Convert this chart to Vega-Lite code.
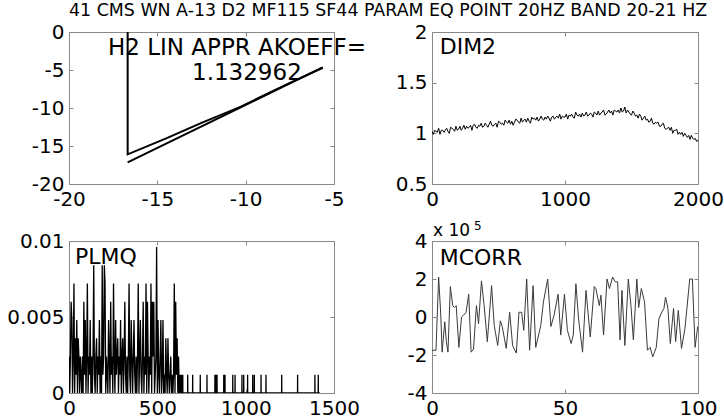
{
"$schema": "https://vega.github.io/schema/vega-lite/v6.json",
"background": "white",
"padding": {"left": 6, "top": 2, "right": 0, "bottom": 0},
"title": {"text": "41 CMS WN A-13 D2 MF115 SF44 PARAM EQ POINT 20HZ BAND 20-21 HZ", "font": "DejaVu Sans", "fontSize": 17.4, "fontWeight": "normal", "color": "#000", "anchor": "middle", "dx": 23, "offset": 2},
"bounds": "flush",
"columns": 2,
"spacing": {"row": 57, "column": 98},
"datasets": {
"h2": [
{"s":"d","i":0,"x":-16.68,"y":0},{"s":"d","i":1,"x":-16.68,"y":-16.1},{"s":"d","i":2,"x":-14.5,"y":-14.0},{"s":"d","i":3,"x":-12.5,"y":-11.95},{"s":"d","i":4,"x":-10.3,"y":-9.85},{"s":"d","i":5,"x":-8.0,"y":-7.25},{"s":"d","i":6,"x":-5.64,"y":-4.7},
{"s":"f","i":0,"x":-16.68,"y":-17.15},{"s":"f","i":1,"x":-5.64,"y":-4.65}],
"h2t": [{"x":-10.49,"y":-3.03,"t":"H2 LIN APPR AKOEFF="},{"x":-9.93,"y":-6.32,"t":"1.132962"}],
"dim2": [
{"x":0,"y":1.02},{"x":10,"y":0.99},{"x":20,"y":1.03},{"x":30,"y":1.02},{"x":40,"y":1.01},{"x":50,"y":1.05},{"x":60,"y":0.99},{"x":70,"y":1.03},{"x":80,"y":1.03},{"x":90,"y":1.01},
{"x":100,"y":1.03},{"x":110,"y":1.05},{"x":120,"y":1.02},{"x":130,"y":1.00},{"x":140,"y":1.06},{"x":150,"y":1.05},{"x":160,"y":1.04},{"x":170,"y":1.02},{"x":180,"y":1.07},{"x":190,"y":1.03},
{"x":200,"y":1.04},{"x":210,"y":1.07},{"x":220,"y":1.03},{"x":230,"y":1.05},{"x":240,"y":1.08},{"x":250,"y":1.04},{"x":260,"y":1.07},{"x":270,"y":1.05},{"x":280,"y":1.06},{"x":290,"y":1.08},
{"x":300,"y":1.03},{"x":310,"y":1.08},{"x":320,"y":1.09},{"x":330,"y":1.06},{"x":340,"y":1.05},{"x":350,"y":1.08},{"x":360,"y":1.07},{"x":370,"y":1.10},{"x":380,"y":1.06},{"x":390,"y":1.07},
{"x":400,"y":1.10},{"x":410,"y":1.08},{"x":420,"y":1.06},{"x":430,"y":1.09},{"x":440,"y":1.12},{"x":450,"y":1.08},{"x":460,"y":1.07},{"x":470,"y":1.09},{"x":480,"y":1.10},{"x":490,"y":1.06},
{"x":500,"y":1.12},{"x":510,"y":1.11},{"x":520,"y":1.09},{"x":530,"y":1.10},{"x":540,"y":1.08},{"x":550,"y":1.13},{"x":560,"y":1.11},{"x":570,"y":1.10},{"x":580,"y":1.13},{"x":590,"y":1.09},
{"x":600,"y":1.12},{"x":610,"y":1.08},{"x":620,"y":1.11},{"x":630,"y":1.14},{"x":640,"y":1.13},{"x":650,"y":1.11},{"x":660,"y":1.10},{"x":670,"y":1.15},{"x":680,"y":1.11},{"x":690,"y":1.13},
{"x":700,"y":1.14},{"x":710,"y":1.11},{"x":720,"y":1.15},{"x":730,"y":1.12},{"x":740,"y":1.10},{"x":750,"y":1.16},{"x":760,"y":1.14},{"x":770,"y":1.15},{"x":780,"y":1.13},{"x":790,"y":1.16},
{"x":800,"y":1.12},{"x":810,"y":1.14},{"x":820,"y":1.17},{"x":830,"y":1.14},{"x":840,"y":1.13},{"x":850,"y":1.16},{"x":860,"y":1.14},{"x":870,"y":1.17},{"x":880,"y":1.15},{"x":890,"y":1.12},
{"x":900,"y":1.16},{"x":910,"y":1.17},{"x":920,"y":1.14},{"x":930,"y":1.16},{"x":940,"y":1.17},{"x":950,"y":1.15},{"x":960,"y":1.19},{"x":970,"y":1.14},{"x":980,"y":1.17},{"x":990,"y":1.16},
{"x":1000,"y":1.16},{"x":1010,"y":1.19},{"x":1020,"y":1.14},{"x":1030,"y":1.18},{"x":1040,"y":1.17},{"x":1050,"y":1.19},{"x":1060,"y":1.16},{"x":1070,"y":1.15},{"x":1080,"y":1.21},{"x":1090,"y":1.18},
{"x":1100,"y":1.17},{"x":1110,"y":1.19},{"x":1120,"y":1.16},{"x":1130,"y":1.20},{"x":1140,"y":1.17},{"x":1150,"y":1.18},{"x":1160,"y":1.21},{"x":1170,"y":1.17},{"x":1180,"y":1.18},{"x":1190,"y":1.20},
{"x":1200,"y":1.19},{"x":1210,"y":1.16},{"x":1220,"y":1.21},{"x":1230,"y":1.20},{"x":1240,"y":1.18},{"x":1250,"y":1.22},{"x":1260,"y":1.18},{"x":1270,"y":1.20},{"x":1280,"y":1.21},{"x":1290,"y":1.23},
{"x":1300,"y":1.18},{"x":1310,"y":1.19},{"x":1320,"y":1.21},{"x":1330,"y":1.23},{"x":1340,"y":1.20},{"x":1350,"y":1.22},{"x":1360,"y":1.18},{"x":1370,"y":1.23},{"x":1380,"y":1.22},{"x":1390,"y":1.21},
{"x":1400,"y":1.23},{"x":1410,"y":1.20},{"x":1420,"y":1.25},{"x":1430,"y":1.21},{"x":1440,"y":1.22},{"x":1450,"y":1.26},{"x":1460,"y":1.20},{"x":1470,"y":1.23},{"x":1480,"y":1.21},{"x":1490,"y":1.19},
{"x":1500,"y":1.18},{"x":1510,"y":1.22},{"x":1520,"y":1.20},{"x":1530,"y":1.17},{"x":1540,"y":1.18},{"x":1550,"y":1.15},{"x":1560,"y":1.19},{"x":1570,"y":1.17},{"x":1580,"y":1.13},{"x":1590,"y":1.15},
{"x":1600,"y":1.17},{"x":1610,"y":1.13},{"x":1620,"y":1.14},{"x":1630,"y":1.11},{"x":1640,"y":1.12},{"x":1650,"y":1.15},{"x":1660,"y":1.10},{"x":1670,"y":1.09},{"x":1680,"y":1.11},{"x":1690,"y":1.10},
{"x":1700,"y":1.11},{"x":1710,"y":1.07},{"x":1720,"y":1.07},{"x":1730,"y":1.09},{"x":1740,"y":1.10},{"x":1750,"y":1.05},{"x":1760,"y":1.04},{"x":1770,"y":1.05},{"x":1780,"y":1.06},{"x":1790,"y":1.03},
{"x":1800,"y":1.06},{"x":1810,"y":1.00},{"x":1820,"y":1.03},{"x":1830,"y":1.03},{"x":1840,"y":1.04},{"x":1850,"y":0.99},{"x":1860,"y":1.01},{"x":1870,"y":0.99},{"x":1880,"y":1.01},{"x":1890,"y":0.97},
{"x":1900,"y":1.00},{"x":1910,"y":0.98},{"x":1920,"y":0.96},{"x":1930,"y":0.98},{"x":1940,"y":0.94},{"x":1950,"y":0.98},{"x":1960,"y":0.95},{"x":1970,"y":0.94},{"x":1980,"y":0.95},{"x":1990,"y":0.92},
{"x":2000,"y":0.93}],
"dim2t": [{"x":58,"y":1.783,"t":"DIM2"}],
"plmq": [
{"x":0,"y":0.0024},{"x":4,"y":0},{"x":8,"y":0.0024},{"x":12,"y":0.006},{"x":16,"y":0.0048},{"x":20,"y":0},{"x":24,"y":0.0024},{"x":28,"y":0.0072},{"x":32,"y":0},{"x":36,"y":0.0036},
{"x":40,"y":0.0012},{"x":44,"y":0.0048},{"x":48,"y":0},{"x":52,"y":0.0036},{"x":56,"y":0.0024},{"x":60,"y":0},{"x":64,"y":0.0024},{"x":68,"y":0.0012},{"x":72,"y":0},{"x":76,"y":0.0024},
{"x":80,"y":0},{"x":84,"y":0.006},{"x":88,"y":0.0012},{"x":92,"y":0.0048},{"x":96,"y":0},{"x":100,"y":0.0024},{"x":104,"y":0.0072},{"x":108,"y":0},{"x":112,"y":0.0024},{"x":116,"y":0.0012},
{"x":120,"y":0.0048},{"x":124,"y":0},{"x":128,"y":0.0024},{"x":132,"y":0},{"x":136,"y":0.0024},{"x":140,"y":0.0084},{"x":144,"y":0.0012},{"x":148,"y":0},{"x":152,"y":0.0024},{"x":156,"y":0.0036},
{"x":160,"y":0},{"x":164,"y":0.0024},{"x":168,"y":0.0012},{"x":172,"y":0.0048},{"x":176,"y":0},{"x":180,"y":0.0024},{"x":184,"y":0},{"x":188,"y":0.0084},{"x":192,"y":0.0012},{"x":196,"y":0.0024},
{"x":200,"y":0.0084},{"x":204,"y":0.0072},{"x":208,"y":0},{"x":212,"y":0.0024},{"x":216,"y":0.0012},{"x":220,"y":0},{"x":224,"y":0.0048},{"x":228,"y":0.0024},{"x":232,"y":0},{"x":236,"y":0.006},
{"x":240,"y":0.0012},{"x":244,"y":0.0024},{"x":248,"y":0},{"x":252,"y":0.0072},{"x":256,"y":0.0024},{"x":260,"y":0},{"x":264,"y":0.0048},{"x":268,"y":0.0012},{"x":272,"y":0.0024},{"x":276,"y":0.0036},
{"x":280,"y":0},{"x":284,"y":0.0024},{"x":288,"y":0.0012},{"x":292,"y":0.0048},{"x":296,"y":0},{"x":300,"y":0.0024},{"x":304,"y":0.0036},{"x":308,"y":0},{"x":312,"y":0.0024},{"x":316,"y":0.006},
{"x":320,"y":0.0012},{"x":324,"y":0},{"x":328,"y":0.0024},{"x":332,"y":0},{"x":336,"y":0.0024},{"x":340,"y":0.0072},{"x":344,"y":0.0012},{"x":348,"y":0},{"x":352,"y":0.0048},{"x":356,"y":0.0024},
{"x":360,"y":0},{"x":364,"y":0.0024},{"x":368,"y":0.0048},{"x":372,"y":0.0012},{"x":376,"y":0},{"x":380,"y":0.0024},{"x":384,"y":0},{"x":388,"y":0.0024},{"x":392,"y":0.0072},{"x":396,"y":0},
{"x":400,"y":0.0024},{"x":404,"y":0.0048},{"x":408,"y":0.0012},{"x":412,"y":0},{"x":416,"y":0.0024},{"x":420,"y":0.006},{"x":424,"y":0},{"x":428,"y":0.0024},{"x":432,"y":0.0012},{"x":436,"y":0.0072},
{"x":440,"y":0},{"x":444,"y":0.006},{"x":448,"y":0.0024},{"x":452,"y":0},{"x":456,"y":0.0024},{"x":460,"y":0.0012},{"x":464,"y":0.0072},{"x":468,"y":0},{"x":472,"y":0.006},{"x":476,"y":0.0024},
{"x":480,"y":0.006},{"x":484,"y":0},{"x":488,"y":0.0012},{"x":492,"y":0.0024},{"x":496,"y":0.0096},{"x":500,"y":0},{"x":504,"y":0.0048},{"x":508,"y":0.0012},{"x":512,"y":0},{"x":516,"y":0.0024},
{"x":520,"y":0.0048},{"x":524,"y":0},{"x":528,"y":0.0012},{"x":532,"y":0.0048},{"x":536,"y":0},{"x":540,"y":0.0012},{"x":544,"y":0},{"x":548,"y":0.0036},{"x":552,"y":0.0012},{"x":556,"y":0},
{"x":560,"y":0.0036},{"x":564,"y":0.0012},{"x":568,"y":0},{"x":572,"y":0.0012},{"x":576,"y":0.0024},{"x":580,"y":0},{"x":584,"y":0.0012},{"x":588,"y":0},{"x":592,"y":0.0012},{"x":596,"y":0.0072},
{"x":600,"y":0},{"x":604,"y":0.006},{"x":608,"y":0.0012},{"x":612,"y":0.0036},{"x":616,"y":0},{"x":620,"y":0.0024},{"x":624,"y":0},{"x":628,"y":0.0012},{"x":632,"y":0},{"x":636,"y":0.0012},
{"x":640,"y":0},
{"x":643.5,"y":0},{"x":644,"y":0.0012},{"x":644.5,"y":0},
{"x":671.5,"y":0},{"x":672,"y":0.0012},{"x":672.5,"y":0},
{"x":699.5,"y":0},{"x":700,"y":0.0012},{"x":700.5,"y":0},
{"x":742.5,"y":0},{"x":743,"y":0.0012},{"x":743.5,"y":0},
{"x":780.5,"y":0},{"x":781,"y":0.0012},{"x":781.5,"y":0},
{"x":825.5,"y":0},{"x":826,"y":0.0012},{"x":826.5,"y":0},
{"x":831.5,"y":0},{"x":832,"y":0.0012},{"x":832.5,"y":0},
{"x":837.5,"y":0},{"x":838,"y":0.0012},{"x":838.5,"y":0},
{"x":875.5,"y":0},{"x":876,"y":0.0012},{"x":876.5,"y":0},
{"x":882.5,"y":0},{"x":883,"y":0.0012},{"x":883.5,"y":0},
{"x":926.5,"y":0},{"x":927,"y":0.0012},{"x":927.5,"y":0},
{"x":939.5,"y":0},{"x":940,"y":0.0012},{"x":940.5,"y":0},
{"x":978.5,"y":0},{"x":979,"y":0.0012},{"x":979.5,"y":0},
{"x":988.5,"y":0},{"x":989,"y":0.0012},{"x":989.5,"y":0},
{"x":1010.5,"y":0},{"x":1011,"y":0.0012},{"x":1011.5,"y":0},
{"x":1039.5,"y":0},{"x":1040,"y":0.0012},{"x":1040.5,"y":0},
{"x":1048.5,"y":0},{"x":1049,"y":0.0012},{"x":1049.5,"y":0},
{"x":1086.5,"y":0},{"x":1087,"y":0.0012},{"x":1087.5,"y":0},
{"x":1114.5,"y":0},{"x":1115,"y":0.0012},{"x":1115.5,"y":0},
{"x":1203.5,"y":0},{"x":1204,"y":0.0012},{"x":1204.5,"y":0},
{"x":1293.5,"y":0},{"x":1294,"y":0.0012},{"x":1294.5,"y":0},
{"x":1391.5,"y":0},{"x":1392,"y":0.0012},{"x":1392.5,"y":0},
{"x":1410.5,"y":0},{"x":1411,"y":0.0012},{"x":1411.5,"y":0},
{"x":1420,"y":0}],
"plmqt": [{"x":34,"y":0.00849,"t":"PLMQ"}],
"mcorr": [
{"x":0,"y":-1.75},{"x":1.5,"y":-1.75},{"x":2.5,"y":2.1},{"x":3.3,"y":0.1},{"x":3.8,"y":-1.85},{"x":4.8,"y":-0.25},{"x":5.4,"y":-1.3},{"x":6.0,"y":-1.85},{"x":6.9,"y":1.6},{"x":7.8,"y":0.6},
{"x":8.4,"y":0.5},{"x":9.1,"y":0.6},{"x":10.1,"y":-1.6},{"x":11.1,"y":0},{"x":11.9,"y":0.1},{"x":12.8,"y":0.25},{"x":13.8,"y":1.2},{"x":14.7,"y":-1.85},{"x":15.6,"y":-1.7},{"x":16.7,"y":0.6},
{"x":17.5,"y":-0.35},{"x":18.6,"y":1.9},{"x":19.6,"y":0.6},{"x":20.8,"y":-1.3},{"x":22.4,"y":1.65},{"x":23.4,"y":-0.45},{"x":24.7,"y":-1.5},{"x":25.7,"y":-0.2},{"x":26.4,"y":-0.5},{"x":27.9,"y":-1.65},
{"x":29.2,"y":0.25},{"x":30.3,"y":-1.5},{"x":31.7,"y":-1.9},{"x":32.7,"y":0.25},{"x":33.7,"y":0.25},{"x":34.5,"y":-0.7},{"x":35.6,"y":2},{"x":36.7,"y":-1.75},{"x":38.0,"y":1.65},{"x":39.0,"y":-1.6},
{"x":40.9,"y":-0.45},{"x":41.9,"y":0.8},{"x":43.5,"y":2},{"x":44.7,"y":-0.5},{"x":45.9,"y":0.1},{"x":47.4,"y":1.2},{"x":48.4,"y":-0.95},{"x":49.8,"y":1.2},{"x":50.9,"y":-0.7},{"x":52.3,"y":-1.4},
{"x":53.1,"y":-0.95},{"x":54.1,"y":1.75},{"x":55.1,"y":-0.1},{"x":56.6,"y":-1.85},{"x":57.9,"y":1.4},{"x":59.5,"y":-1.05},{"x":61.0,"y":1.6},{"x":61.6,"y":1.5},{"x":62.9,"y":0.6},{"x":63.5,"y":1.15},
{"x":64.5,"y":-0.95},{"x":65.8,"y":2},{"x":66.7,"y":1.5},{"x":67.9,"y":2.1},{"x":68.9,"y":1.85},{"x":69.8,"y":1.85},{"x":70.7,"y":-1.2},{"x":71.4,"y":1.4},{"x":72.5,"y":-1.5},{"x":73.8,"y":2},
{"x":74.8,"y":0.6},{"x":75.7,"y":-1.2},{"x":77.0,"y":2},{"x":77.7,"y":0.5},{"x":78.7,"y":1.5},{"x":79.9,"y":0.8},{"x":81.0,"y":-1.75},{"x":82.0,"y":-1.6},{"x":83.0,"y":-2.1},{"x":84.3,"y":-1.6},
{"x":85.3,"y":-0.1},{"x":86.2,"y":0.2},{"x":87.2,"y":0.45},{"x":87.8,"y":1.05},{"x":88.7,"y":0.45},{"x":89.6,"y":-1.4},{"x":90.8,"y":0.45},{"x":91.6,"y":-1.3},{"x":92.6,"y":0.35},{"x":93.8,"y":-1.65},
{"x":95.1,"y":-0.6},{"x":96.9,"y":2},{"x":97.9,"y":2},{"x":98.9,"y":-1.6},{"x":99.9,"y":-0.5}],
"mcorrt": [{"x":2.9,"y":2.74,"t":"MCORR"}],
"expbase": [{"x":0.4,"y":4.28,"t":"x 10"}],
"expsup": [{"x":15.8,"y":4.59,"t":"5"}]
},
"concat": [
{
"width": 265, "height": 152,
"layer": [
{"data": {"name": "h2"}, "mark": {"type": "line", "color": "#000", "strokeWidth": 2, "clip": true},
 "encoding": {
  "x": {"field": "x", "type": "quantitative", "scale": {"domain": [-20, -5], "nice": false, "zero": false}, "axis": {"orient": "bottom", "values": [-20, -15, -10, -5], "title": null}},
  "y": {"field": "y", "type": "quantitative", "scale": {"domain": [-20, 0], "nice": false, "zero": false}, "axis": {"orient": "left", "values": [-20, -15, -10, -5, 0], "title": null}},
  "detail": {"field": "s"},
  "order": {"field": "i", "type": "quantitative"}}},
{"data": {"name": "h2t"}, "mark": {"type": "text", "align": "center", "baseline": "alphabetic", "fontSize": 23},
 "encoding": {
  "x": {"field": "x", "type": "quantitative", "axis": {"orient": "top", "values": [-20, -15, -10, -5], "labels": false, "title": null}},
  "y": {"field": "y", "type": "quantitative", "axis": {"orient": "right", "values": [-20, -15, -10, -5, 0], "labels": false, "title": null}},
  "text": {"field": "t"}}}
],
"resolve": {"axis": {"x": "independent", "y": "independent"}}
},
{
"width": 266, "height": 152,
"layer": [
{"data": {"name": "dim2"}, "mark": {"type": "line", "color": "#000", "strokeWidth": 1, "clip": true},
 "encoding": {
  "x": {"field": "x", "type": "quantitative", "scale": {"domain": [0, 2000], "nice": false, "zero": false}, "axis": {"orient": "bottom", "values": [0, 1000, 2000], "title": null}},
  "y": {"field": "y", "type": "quantitative", "scale": {"domain": [0.5, 2], "nice": false, "zero": false}, "axis": {"orient": "left", "values": [0.5, 1, 1.5, 2], "title": null}}}},
{"data": {"name": "dim2t"}, "mark": {"type": "text", "align": "left", "baseline": "alphabetic", "fontSize": 22},
 "encoding": {
  "x": {"field": "x", "type": "quantitative", "axis": {"orient": "top", "values": [0, 1000, 2000], "labels": false, "title": null}},
  "y": {"field": "y", "type": "quantitative", "axis": {"orient": "right", "values": [0.5, 1, 1.5, 2], "labels": false, "title": null}},
  "text": {"field": "t"}}}
],
"resolve": {"axis": {"x": "independent", "y": "independent"}}
},
{
"width": 265, "height": 152,
"layer": [
{"data": {"name": "plmq"}, "mark": {"type": "line", "color": "#000", "strokeWidth": 1.3, "clip": true},
 "encoding": {
  "x": {"field": "x", "type": "quantitative", "scale": {"domain": [0, 1500], "nice": false, "zero": false}, "axis": {"orient": "bottom", "values": [0, 500, 1000, 1500], "title": null}},
  "y": {"field": "y", "type": "quantitative", "scale": {"domain": [0, 0.01], "nice": false, "zero": false}, "axis": {"orient": "left", "values": [0, 0.005, 0.01], "title": null}}}},
{"data": {"name": "plmqt"}, "mark": {"type": "text", "align": "left", "baseline": "alphabetic", "fontSize": 22},
 "encoding": {
  "x": {"field": "x", "type": "quantitative", "axis": {"orient": "top", "values": [0, 500, 1000, 1500], "labels": false, "title": null}},
  "y": {"field": "y", "type": "quantitative", "axis": {"orient": "right", "values": [0, 0.005, 0.01], "labels": false, "title": null}},
  "text": {"field": "t"}}}
],
"resolve": {"axis": {"x": "independent", "y": "independent"}}
},
{
"width": 266, "height": 152,
"layer": [
{"data": {"name": "mcorr"}, "mark": {"type": "line", "color": "#3a3a3a", "strokeWidth": 1, "clip": true},
 "encoding": {
  "x": {"field": "x", "type": "quantitative", "scale": {"domain": [0, 100], "nice": false, "zero": false}, "axis": {"orient": "bottom", "values": [0, 50, 100], "title": null}},
  "y": {"field": "y", "type": "quantitative", "scale": {"domain": [-4, 4], "nice": false, "zero": false}, "axis": {"orient": "left", "values": [-4, -2, 0, 2, 4], "title": null}}}},
{"data": {"name": "mcorrt"}, "mark": {"type": "text", "align": "left", "baseline": "alphabetic", "fontSize": 22},
 "encoding": {
  "x": {"field": "x", "type": "quantitative", "axis": {"orient": "top", "values": [0, 50, 100], "labels": false, "title": null}},
  "y": {"field": "y", "type": "quantitative", "axis": {"orient": "right", "values": [-4, -2, 0, 2, 4], "labels": false, "title": null}},
  "text": {"field": "t"}}},
{"data": {"name": "expbase"}, "mark": {"type": "text", "align": "left", "baseline": "alphabetic", "fontSize": 17},
 "encoding": {
  "x": {"field": "x", "type": "quantitative", "axis": null},
  "y": {"field": "y", "type": "quantitative", "axis": null},
  "text": {"field": "t"}}},
{"data": {"name": "expsup"}, "mark": {"type": "text", "align": "left", "baseline": "alphabetic", "fontSize": 12},
 "encoding": {
  "x": {"field": "x", "type": "quantitative", "axis": null},
  "y": {"field": "y", "type": "quantitative", "axis": null},
  "text": {"field": "t"}}}
],
"resolve": {"axis": {"x": "independent", "y": "independent"}}
}
],
"config": {
 "view": {"stroke": "#888", "strokeWidth": 1},
 "axis": {"domain": false, "grid": false, "ticks": true, "tickSize": -4, "tickColor": "#888", "tickWidth": 1, "labelFont": "DejaVu Sans", "labelFontSize": 20, "labelColor": "#000", "labelFlush": false, "labelOverlap": false, "labelExpr": "'' + datum.value"},
 "axisX": {"labelPadding": 9},
 "axisY": {"labelPadding": 9},
 "text": {"font": "DejaVu Sans", "color": "#000"}
}
}
